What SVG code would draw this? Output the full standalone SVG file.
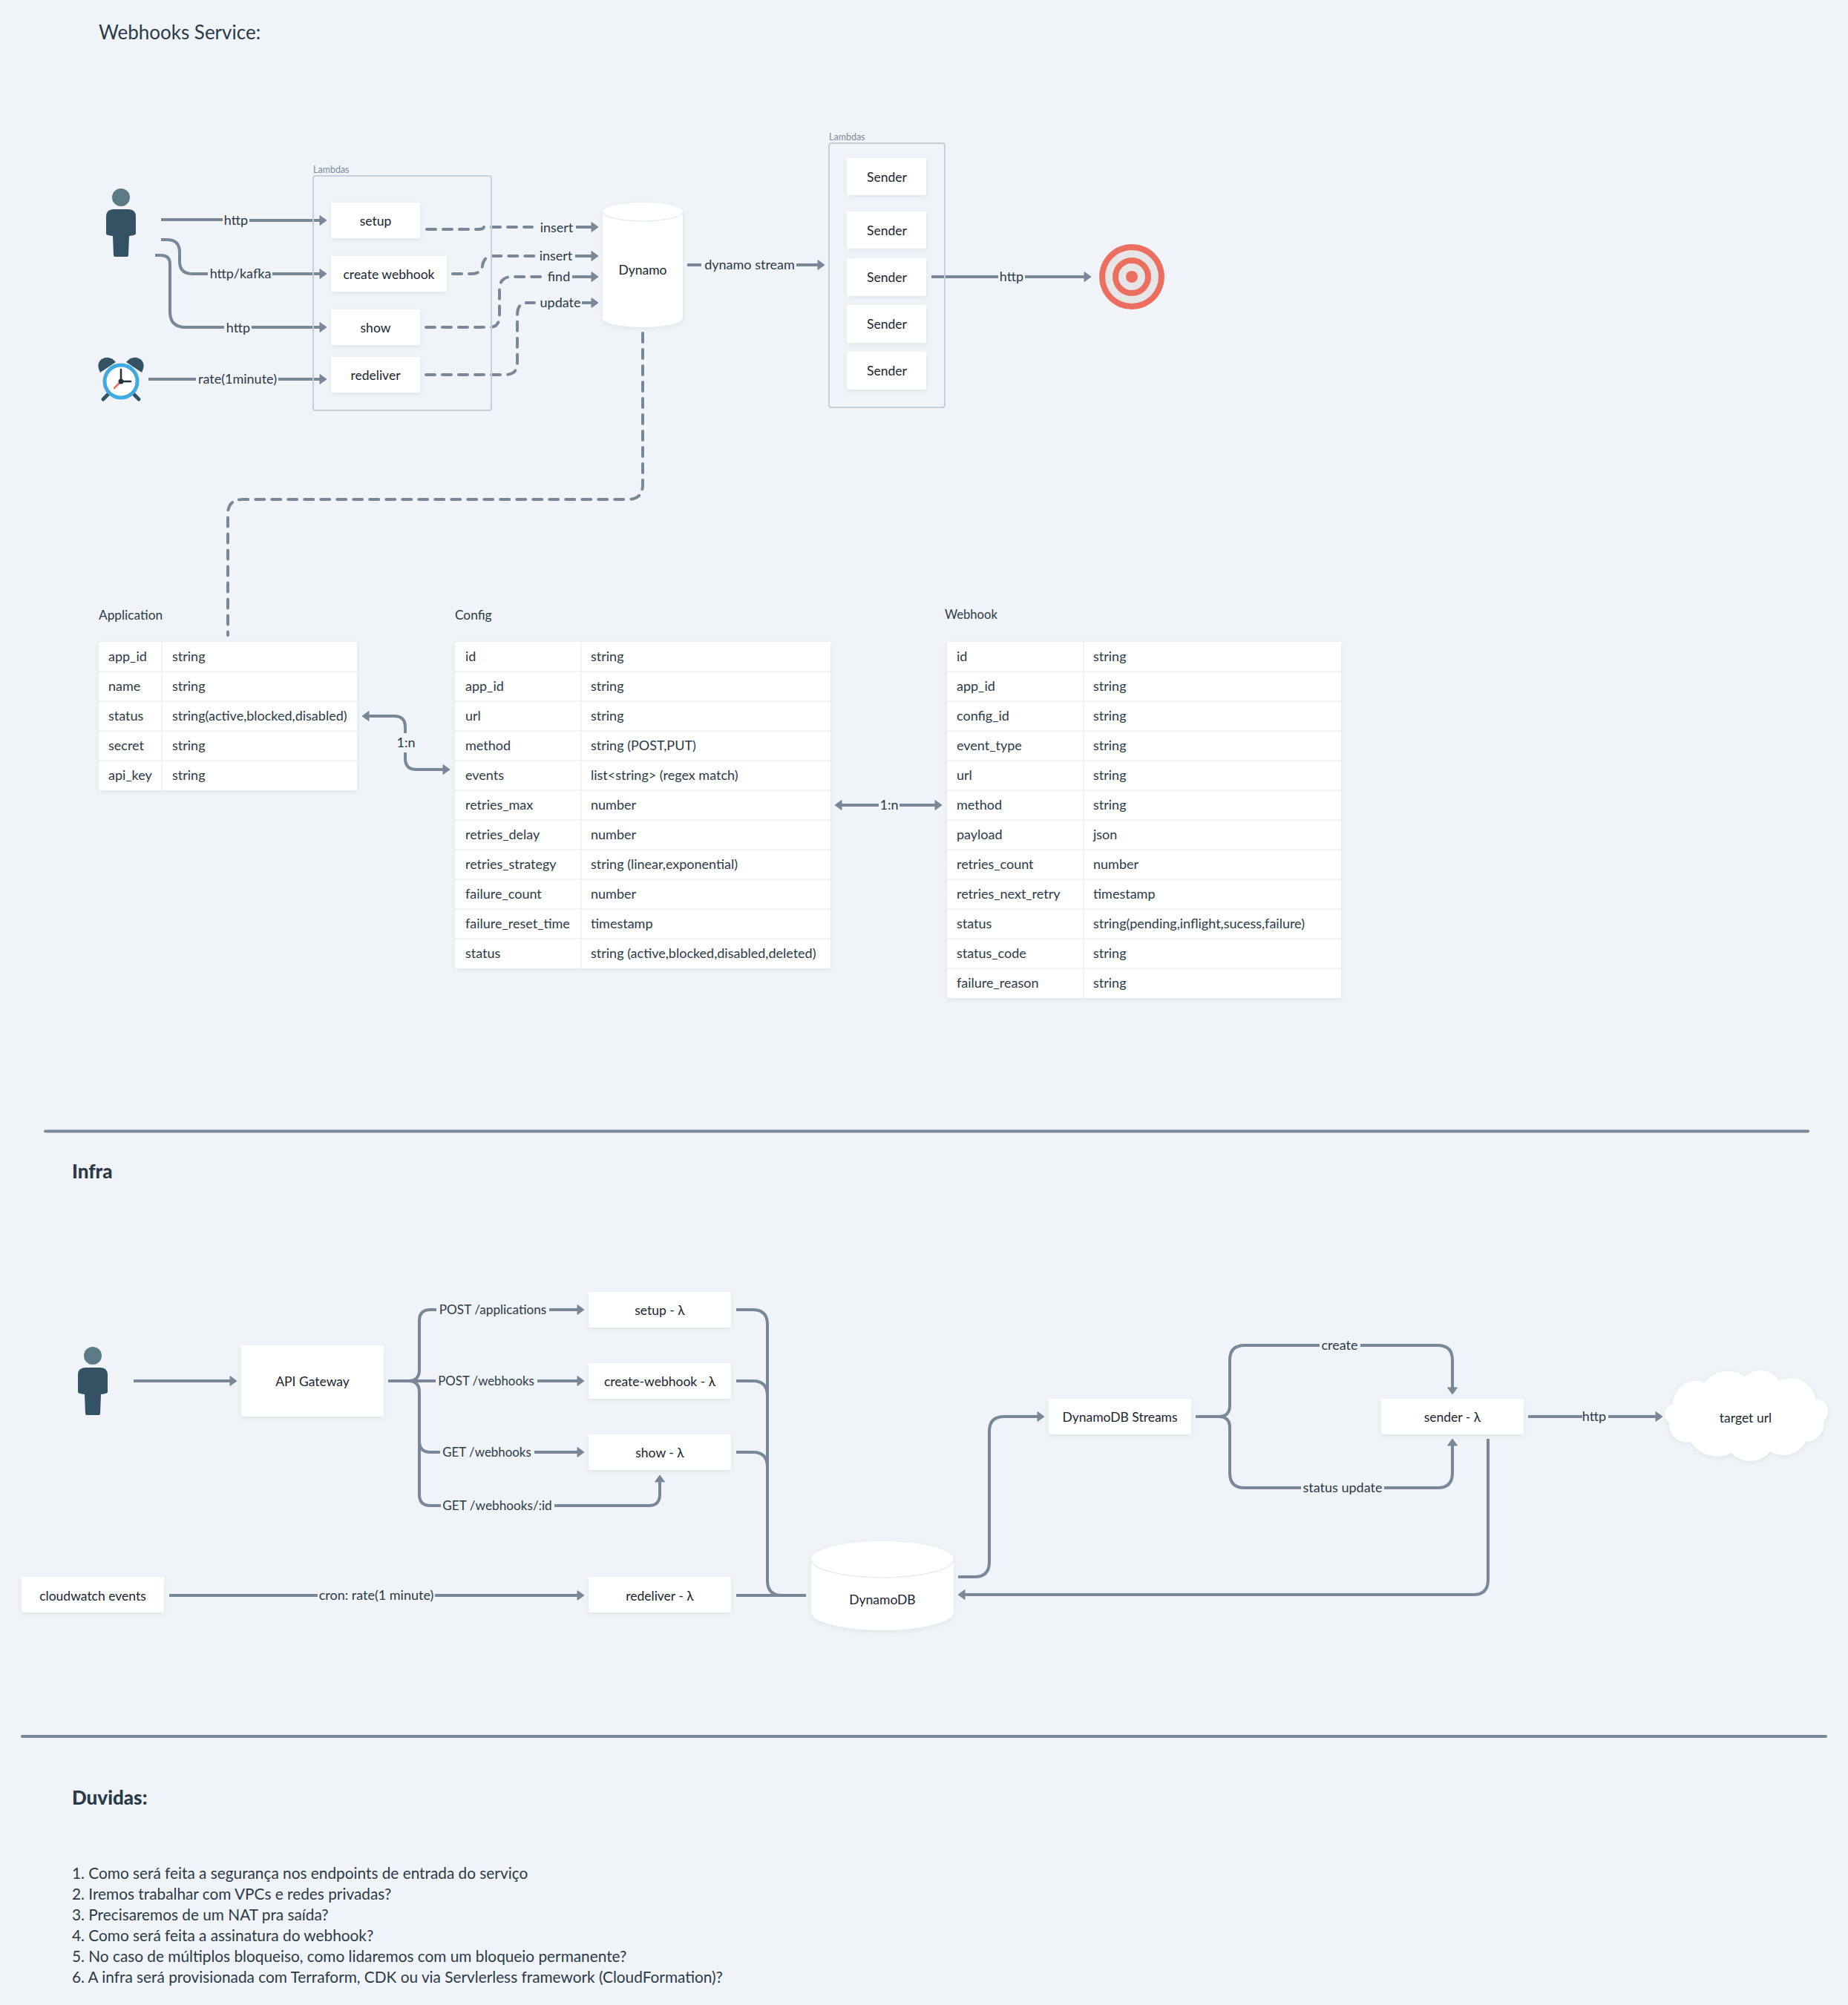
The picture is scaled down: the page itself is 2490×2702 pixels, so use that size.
<svg xmlns="http://www.w3.org/2000/svg" width="2490" height="2702" viewBox="0 0 2490 2702">
<style>
text{font-family:"Lato","Noto Sans",sans-serif;font-size:18px;fill:#2b3a48;dominant-baseline:central;transform:translateY(-1px)}
.c{text-anchor:middle}
.n{fill:#1a2530;font-size:17.5px}
.sm{font-size:12.5px;fill:#7b8a99}
.h{font-size:26px;font-weight:900;fill:#2b3a48}
.t{font-size:26px}
.q{font-size:20.8px}
.hd{font-size:17.3px}
.box{fill:#fff;filter:url(#sh)}
.grp{fill:none;stroke:#c3d0dc;stroke-width:2}
.l{fill:none;stroke:#788898;stroke-width:4;stroke-linejoin:round}
.a{marker-end:url(#ah)}
.d{stroke-dasharray:12 10;stroke-linecap:round}
.sep{stroke:#f0f4f8;stroke-width:2}
.rule{stroke:#788898;stroke-width:4;stroke-linecap:round}
</style>
<defs>
<filter id="sh" x="-10%" y="-10%" width="120%" height="125%"><feDropShadow dx="0" dy="2" stdDeviation="3" flood-color="#8a9ba8" flood-opacity=".18"/></filter>
<marker id="ah" markerUnits="userSpaceOnUse" markerWidth="14" markerHeight="16" refX="3" refY="8" orient="auto-start-reverse"><path d="M1 1.500L10 8L1 14.500Z" fill="#788898" stroke="#788898" stroke-linejoin="round"/></marker>
<g id="person"><circle cx="0" cy="0" r="12" fill="#5a7a85"/><path d="M-20 26Q-20 16-10 16H10Q20 16 20 26V49Q20 51 11 52L10 78Q10 80 8 80H-8Q-10 80-10 78L-11 52Q-20 51-20 49Z" fill="#335264"/></g>
</defs>
<rect width="2490" height="2702" fill="#f0f4f8"/>
<text x="133" y="44" class="t">Webhooks Service:</text>

<g id="connectors">
<path class="l" d="M217 296H300"/><path class="l a" d="M336 297H433"/>
<path class="l" d="M217 323H225Q242 323 242 340V352Q242 369 259 369H280"/><path class="l a" d="M367 369H433"/>
<path class="l" d="M209 344H217Q229 344 229 356V420Q229 441 250 441H302"/><path class="l a" d="M339 441H433"/>
<path class="l" d="M200 511H264"/><path class="l a" d="M375 511H433"/>
<path class="l d" d="M575 309H645Q651 309 652 306H717"/><path class="l a" d="M776 306H799"/>
<path class="l d" d="M610 369H636Q648 369 650 358Q652 345 664 345H720"/><path class="l a" d="M775 345H799"/>
<path class="l d" d="M574 441H660Q673 441 673 425V390Q673 373 690 373H729"/><path class="l a" d="M771 373H799"/>
<path class="l d" d="M574 505H680Q697 505 697 490V425Q697 408 710 408H720"/><path class="l a" d="M784 408H799"/>
<path class="l" d="M926 357H945"/><path class="l a" d="M1073 357H1104"/>
<path class="l" d="M1255 373H1345"/><path class="l a" d="M1381 373H1463"/>
<path class="l d" d="M866 449V653Q866 673 846 673H327Q307 673 307 693V856"/>
<path class="l a" d="M546 988V980Q546 965 531 965H495"/><path class="l a" d="M546 1014V1022Q546 1037 561 1037H599"/>
<path class="l a" d="M1184 1085H1132"/><path class="l a" d="M1212 1085H1262"/>

<path class="l a" d="M180 1861H312"/>
<path class="l" d="M523 1861H587"/><path class="l a" d="M724 1861H780"/>
<path class="l" d="M550 1861Q565 1861 565 1846V1780Q565 1765 580 1765H588"/><path class="l a" d="M740 1765H780"/>
<path class="l" d="M550 1861Q565 1861 565 1876V2014Q565 2029 580 2029H594"/><path class="l a" d="M747 2029H874Q889 2029 889 2014V1995"/>
<path class="l" d="M565 1942Q565 1957 580 1957H593"/><path class="l a" d="M720 1957H780"/>
<path class="l" d="M228 2150H428"/><path class="l a" d="M586 2150H780"/>
<path class="l" d="M992 1765H1014Q1034 1765 1034 1785V2130Q1034 2150 1054 2150"/>
<path class="l" d="M992 1861H1014Q1034 1861 1034 1881"/>
<path class="l" d="M992 1957H1014Q1034 1957 1034 1977"/>
<path class="l" d="M992 2150H1086"/>
<path class="l a" d="M1291 2125H1313Q1333 2125 1333 2105V1929Q1333 1909 1353 1909H1400"/>
<path class="l" d="M1611 1909H1642Q1657 1909 1657 1894V1833Q1657 1813 1677 1813H1778"/>
<path class="l a" d="M1833 1813H1937Q1957 1813 1957 1833V1872"/>
<path class="l" d="M1642 1909Q1657 1909 1657 1924V1985Q1657 2005 1677 2005H1753"/>
<path class="l a" d="M1865 2005H1937Q1957 2005 1957 1985V1946"/>
<path class="l" d="M2059 1909H2132"/><path class="l a" d="M2167 1909H2233"/>
<path class="l a" d="M2005 1939V2129Q2005 2149 1985 2149H1298"/>
</g>

<text x="318" y="297" class="c">http</text>
<text x="324" y="369" class="c">http/kafka</text>
<text x="321" y="442" class="c">http</text>
<text x="320" y="511" class="c">rate(1minute)</text>
<text x="750" y="307" class="c">insert</text>
<text x="749" y="345" class="c">insert</text>
<text x="753" y="373" class="c">find</text>
<text x="755" y="408" class="c">update</text>
<text x="1010" y="357" class="c">dynamo stream</text>
<text x="1363" y="373" class="c">http</text>
<text x="547" y="1001" class="c">1:n</text>
<text x="1198" y="1085" class="c">1:n</text>
<text x="664" y="1765" class="c" style="font-size:17.2px">POST /applications</text>
<text x="655" y="1861" class="c" style="font-size:16.8px">POST /webhooks</text>
<text x="656" y="1957" class="c" style="font-size:16.9px">GET /webhooks</text>
<text x="670" y="2029" class="c" style="font-size:17.2px">GET /webhooks/:id</text>
<text x="507" y="2150" class="c">cron: rate(1 minute)</text>
<text x="1805" y="1813" class="c">create</text>
<text x="1809" y="2005" class="c">status update</text>
<text x="2148" y="1909" class="c">http</text>

<g id="lambdas-1"><rect class="grp" x="422" y="237" width="240" height="316" rx="3"/><text x="422" y="229" class="sm">Lambdas</text></g>
<g id="lambdas-2"><rect class="grp" x="1117" y="193" width="156" height="356" rx="3"/><text x="1117" y="185" class="sm">Lambdas</text></g>

<g id="user-1"><use href="#person" x="163" y="266"/></g>
<g id="clock">
<path d="M135 502Q129 490 137 484Q147 478 156 488Z" fill="#335264"/><path d="M191 502Q197 490 189 484Q179 478 170 488Z" fill="#335264"/>
<path d="M139 538L146 531M187 538L180 531" stroke="#335264" stroke-width="5" stroke-linecap="round"/>
<circle cx="163" cy="514" r="22" fill="#fff" stroke="#3fa9e0" stroke-width="5"/>
<path d="M163 514V498M163 514H176" stroke="#22323f" stroke-width="2.500" stroke-linecap="round"/>
<path d="M163 514L154 523" stroke="#ec6e60" stroke-width="2.500" stroke-linecap="round"/><circle cx="163" cy="514" r="3.500" fill="#22323f"/>
</g>
<g id="setup"><rect class="box" x="446" y="273" width="120" height="48" rx="2"/><text class="n c" x="506" y="298">setup</text></g>
<g id="create-webhook"><rect class="box" x="446" y="345" width="156" height="48" rx="2"/><text class="n c" x="524" y="370">create webhook</text></g>
<g id="show"><rect class="box" x="446" y="417" width="120" height="48" rx="2"/><text class="n c" x="506" y="442">show</text></g>
<g id="redeliver"><rect class="box" x="446" y="481" width="120" height="48" rx="2"/><text class="n c" x="506" y="506">redeliver</text></g>
<g id="dynamo"><path class="box" d="M812 285.500A54 12.500 0 0 1 920 285.500V428.500A54 12.500 0 0 1 812 428.500Z"/><path d="M812 285.500A54 12.500 0 0 0 920 285.500" fill="none" stroke="#e6ecf1" stroke-width="1.500"/><text class="n c" x="866" y="364">Dynamo</text></g>
<g id="sender-1"><rect class="box" x="1141" y="213" width="107" height="50" rx="2"/><text class="n c" x="1195" y="239">Sender</text></g>
<g id="sender-2"><rect class="box" x="1141" y="285" width="107" height="50" rx="2"/><text class="n c" x="1195" y="311">Sender</text></g>
<g id="sender-3"><rect class="box" x="1141" y="348" width="107" height="51" rx="2"/><text class="n c" x="1195" y="374">Sender</text></g>
<g id="sender-4"><rect class="box" x="1141" y="411" width="107" height="51" rx="2"/><text class="n c" x="1195" y="437">Sender</text></g>
<g id="sender-5"><rect class="box" x="1141" y="474" width="107" height="51" rx="2"/><text class="n c" x="1195" y="500">Sender</text></g>
<g id="target"><circle cx="1525" cy="373" r="44" fill="#ec6e60"/><circle cx="1525" cy="373" r="36" fill="#e6e6e6"/><circle cx="1525" cy="373" r="26" fill="#ec6e60"/><circle cx="1525" cy="373" r="18" fill="#e6e6e6"/><circle cx="1525" cy="373" r="8" fill="#ec6e60"/></g>

<g id="table-application">
<text x="133" y="829" class="hd">Application</text>
<rect class="box" x="133" y="865" width="348" height="200" rx="2"/>
<path class="sep" d="M133 905H481M133 945H481M133 985H481M133 1025H481M218 865V1065"/>
<text x="146" y="885">app_id</text><text x="232" y="885">string</text>
<text x="146" y="925">name</text><text x="232" y="925">string</text>
<text x="146" y="965">status</text><text x="232" y="965">string(active,blocked,disabled)</text>
<text x="146" y="1005">secret</text><text x="232" y="1005">string</text>
<text x="146" y="1045">api_key</text><text x="232" y="1045">string</text>
</g>
<g id="table-config">
<text x="613" y="829" class="hd">Config</text>
<rect class="box" x="613" y="865" width="506" height="440" rx="2"/>
<path class="sep" d="M613 905H1119M613 945H1119M613 985H1119M613 1025H1119M613 1065H1119M613 1105H1119M613 1145H1119M613 1185H1119M613 1225H1119M613 1265H1119M783 865V1305"/>
<text x="627" y="885">id</text><text x="796" y="885">string</text>
<text x="627" y="925">app_id</text><text x="796" y="925">string</text>
<text x="627" y="965">url</text><text x="796" y="965">string</text>
<text x="627" y="1005">method</text><text x="796" y="1005">string (POST,PUT)</text>
<text x="627" y="1045">events</text><text x="796" y="1045">list&lt;string&gt; (regex match)</text>
<text x="627" y="1085">retries_max</text><text x="796" y="1085">number</text>
<text x="627" y="1125">retries_delay</text><text x="796" y="1125">number</text>
<text x="627" y="1165">retries_strategy</text><text x="796" y="1165">string (linear,exponential)</text>
<text x="627" y="1205">failure_count</text><text x="796" y="1205">number</text>
<text x="627" y="1245">failure_reset_time</text><text x="796" y="1245">timestamp</text>
<text x="627" y="1285">status</text><text x="796" y="1285">string (active,blocked,disabled,deleted)</text>
</g>
<g id="table-webhook">
<text x="1273" y="829" style="font-size:16.600px">Webhook</text>
<rect class="box" x="1276" y="865" width="531" height="480" rx="2"/>
<path class="sep" d="M1276 905H1807M1276 945H1807M1276 985H1807M1276 1025H1807M1276 1065H1807M1276 1105H1807M1276 1145H1807M1276 1185H1807M1276 1225H1807M1276 1265H1807M1276 1305H1807M1460 865V1345"/>
<text x="1289" y="885">id</text><text x="1473" y="885">string</text>
<text x="1289" y="925">app_id</text><text x="1473" y="925">string</text>
<text x="1289" y="965">config_id</text><text x="1473" y="965">string</text>
<text x="1289" y="1005">event_type</text><text x="1473" y="1005">string</text>
<text x="1289" y="1045">url</text><text x="1473" y="1045">string</text>
<text x="1289" y="1085">method</text><text x="1473" y="1085">string</text>
<text x="1289" y="1125">payload</text><text x="1473" y="1125">json</text>
<text x="1289" y="1165">retries_count</text><text x="1473" y="1165">number</text>
<text x="1289" y="1205">retries_next_retry</text><text x="1473" y="1205">timestamp</text>
<text x="1289" y="1245">status</text><text x="1473" y="1245">string(pending,inflight,sucess,failure)</text>
<text x="1289" y="1285">status_code</text><text x="1473" y="1285">string</text>
<text x="1289" y="1325">failure_reason</text><text x="1473" y="1325">string</text>
</g>

<line class="rule" x1="61" y1="1524.500" x2="2436" y2="1524.500"/>
<text x="97" y="1579" class="h">Infra</text>
<g id="user-2"><use href="#person" x="125" y="1827"/></g>
<g id="api-gateway"><rect class="box" x="325" y="1813" width="192" height="96" rx="2"/><text class="n c" x="421" y="1862">API Gateway</text></g>
<g id="setup-l"><rect class="box" x="793" y="1741" width="192" height="48" rx="2"/><text class="n c" x="889" y="1766">setup - λ</text></g>
<g id="create-webhook-l"><rect class="box" x="793" y="1837" width="192" height="48" rx="2"/><text class="n c" x="889" y="1862">create-webhook - λ</text></g>
<g id="show-l"><rect class="box" x="793" y="1933" width="192" height="48" rx="2"/><text class="n c" x="889" y="1958">show - λ</text></g>
<g id="redeliver-l"><rect class="box" x="793" y="2125" width="192" height="48" rx="2"/><text class="n c" x="889" y="2151">redeliver - λ</text></g>
<g id="cloudwatch"><rect class="box" x="29" y="2125" width="192" height="48" rx="2"/><text class="n c" x="125" y="2151">cloudwatch events</text></g>
<g id="dynamodb"><path class="box" d="M1093 2101.500A96 24.500 0 0 1 1285 2101.500V2172.500A96 24.500 0 0 1 1093 2172.500Z"/><path d="M1093 2101.500A96 24.500 0 0 0 1285 2101.500" fill="none" stroke="#e6ecf1" stroke-width="1.500"/><text class="n c" x="1189" y="2156">DynamoDB</text></g>
<g id="streams"><rect class="box" x="1413" y="1885" width="192" height="48" rx="2"/><text class="n c" x="1509" y="1910">DynamoDB Streams</text></g>
<g id="sender-l"><rect class="box" x="1861" y="1885" width="192" height="48" rx="2"/><text class="n c" x="1957" y="1910">sender - λ</text></g>
<g id="target-url"><path class="box" d="M2254 1892A32 32 0 0 1 2297 1863A40 40 0 0 1 2351 1855A30 30 0 0 1 2397 1861A34 34 0 0 1 2446 1885A17 17 0 0 1 2457 1915A24 24 0 0 1 2433 1943A34 34 0 0 1 2385 1956A34 34 0 0 1 2333 1958A42 42 0 0 1 2278 1943A24 24 0 0 1 2249 1917A14 14 0 0 1 2254 1892Z"/><text class="n c" x="2352" y="1911">target url</text></g>

<line class="rule" x1="30" y1="2340" x2="2460" y2="2340"/>
<text x="97" y="2423" class="h">Duvidas:</text>
<text x="97" y="2524" class="q">1. Como será feita a segurança nos endpoints de entrada do serviço</text>
<text x="97" y="2552" class="q">2. Iremos trabalhar com VPCs e redes privadas?</text>
<text x="97" y="2580" class="q">3. Precisaremos de um NAT pra saída?</text>
<text x="97" y="2608" class="q">4. Como será feita a assinatura do webhook?</text>
<text x="97" y="2636" class="q">5. No caso de múltiplos bloqueiso, como lidaremos com um bloqueio permanente?</text>
<text x="97" y="2664" class="q">6. A infra será provisionada com Terraform, CDK ou via Servlerless framework (CloudFormation)?</text>
</svg>
